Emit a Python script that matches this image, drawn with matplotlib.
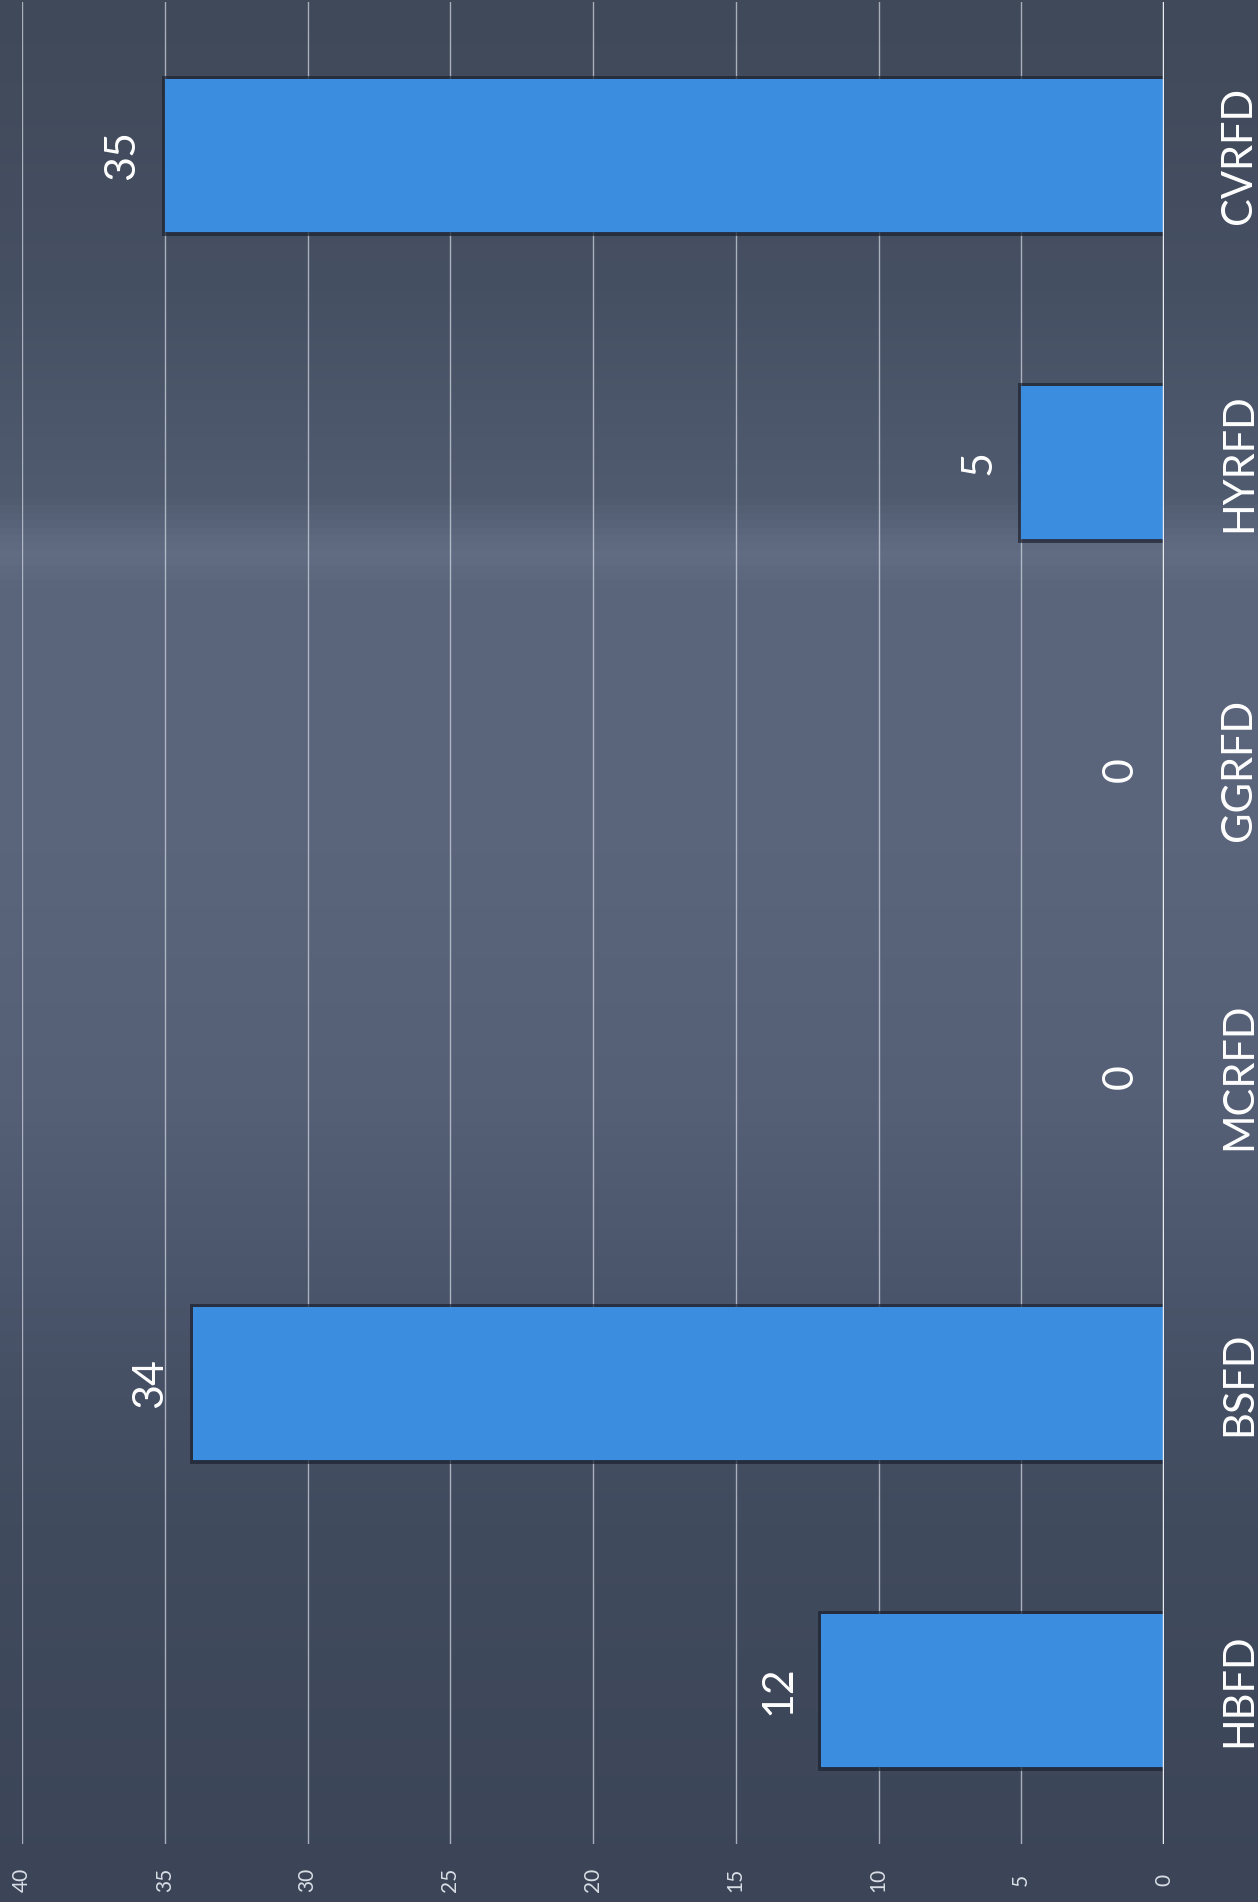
import numpy as np
import matplotlib
matplotlib.use("Agg")
import matplotlib.pyplot as plt
import matplotlib.patheffects as pe
from matplotlib.colors import LinearSegmentedColormap

# Fire department counts
categories = ["HBFD", "BSFD", "MCRFD", "GGRFD", "HYRFD", "CVRFD"]
counts = [12, 34, 0, 0, 5, 35]
value_ticks = [0, 5, 10, 15, 20, 25, 30, 35, 40]

plt.rcParams["font.family"] = ["Lato", "DejaVu Sans"]

W, H = 1258, 1902
fig = plt.figure(figsize=(W / 100, H / 100), dpi=100)

# Slate background with a lighter horizontal band across the middle
bg_ax = fig.add_axes([0, 0, 1, 1], zorder=-10)
bg_ax.set_axis_off()
stops = [(0.00, "#404959"), (0.15, "#465063"), (0.26, "#505b70"),
         (0.29, "#626d84"), (0.31, "#5a657c"), (0.45, "#5a647b"),
         (0.58, "#555f76"), (0.68, "#4a546a"), (0.80, "#414b5e"),
         (1.00, "#3b4557")]
cmap = LinearSegmentedColormap.from_list("slate", stops)
grad = np.linspace(0, 1, 512).reshape(-1, 1)
bg_ax.imshow(grad, aspect="auto", cmap=cmap, extent=[0, 1, 1, 0])
bg_ax.set_xlim(0, 1)
bg_ax.set_ylim(1, 0)

# Plot area (value axis runs right-to-left, categories bottom-to-top)
left = 22 / W
right = 1164 / W
top = 2 / H
bottom = 1844 / H
ax = fig.add_axes([left, 1 - bottom, right - left, bottom - top])
ax.patch.set_alpha(0)

y = np.arange(len(categories))
bars = ax.barh(y, counts, height=0.5, color="#3b8de0", zorder=3)
for b, v in zip(bars, counts):
    if v > 0:
        b.set_path_effects([pe.Stroke(linewidth=5, foreground="#1b2130", alpha=0.7),
                            pe.Normal()])

ax.set_xlim(40, 0)
ax.set_ylim(-0.5, len(categories) - 0.5)

ax.set_xticks(value_ticks)
ax.set_xticklabels([str(v) for v in value_ticks], rotation=90,
                   va="center", ha="center", fontsize=15, color="#d9dde5")
ax.tick_params(axis="x", length=0, pad=26)

ax.yaxis.tick_right()
ax.set_yticks(y)
ax.set_yticklabels(categories, rotation=90, va="center", ha="center",
                   fontsize=30, color="white")
ax.tick_params(axis="y", length=0, pad=54)

ax.grid(axis="x", color="#cdd2dc", linewidth=1.0, alpha=0.75, zorder=1)
ax.set_axisbelow(True)
for s in ax.spines.values():
    s.set_visible(False)
ax.axvline(0, color="#e8ebf0", linewidth=2.5, zorder=4)

for yi, v in zip(y, counts):
    ax.annotate(str(v), xy=(v, yi), xytext=(-31, 0), textcoords="offset points",
                rotation=90, ha="center", va="center", fontsize=31,
                color="white", zorder=5)

fig.savefig("out.png", dpi=100)
